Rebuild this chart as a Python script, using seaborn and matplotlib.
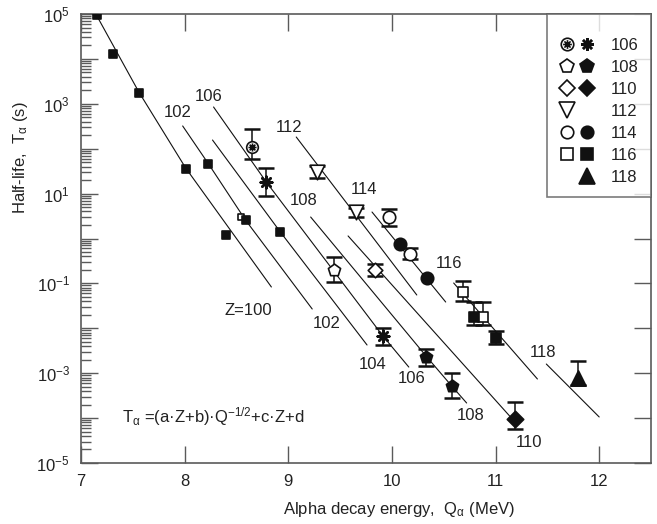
"""Alpha-decay half-lives of heavy nuclei vs Q_alpha, with the Z=100..118 systematics curves."""

import matplotlib
matplotlib.use("Agg")
import matplotlib.pyplot as plt
import numpy as np
import seaborn as sns
from matplotlib.legend_handler import HandlerTuple
from matplotlib.lines import Line2D
from matplotlib.path import Path
from matplotlib.ticker import FixedLocator, FuncFormatter, LogLocator, NullLocator

# --- data (Q in MeV, T in s) ---
known_q = [7.15, 7.31, 7.56, 8.01, 8.23, 8.40, 8.59, 8.92]
known_t = [9.5e4, 1.3e4, 1.75e3, 35.0, 46.0, 1.2, 2.6, 1.4]
known_open_q = [8.54]
known_open_t = [2.95]

z106_open_q, z106_open_t = [8.65], [110.0]
z106_open_lo, z106_open_hi = [58.0], [275.0]
z106_fill_q, z106_fill_t = [8.785, 9.915], [18.4, 6.8e-3]
z106_fill_lo, z106_fill_hi = [8.9, 4.3e-3], [38.0, 1.02e-2]

z108_open_q, z108_open_t = [9.44], [0.20]
z108_open_lo, z108_open_hi = [0.11], [0.38]
z108_fill_q, z108_fill_t = [10.33, 10.58], [2.24e-3, 5.2e-4]
z108_fill_lo, z108_fill_hi = [1.45e-3, 2.8e-4], [3.4e-3, 1.0e-3]

z110_open_q, z110_open_t = [9.84], [0.20]
z110_open_lo, z110_open_hi = [0.148], [0.266]
z110_fill_q, z110_fill_t = [11.19], [9.4e-5]
z110_fill_lo, z110_fill_hi = [5.75e-5], [2.34e-4]

z112_open_q, z112_open_t = [9.28, 9.65], [31.0, 3.8]
z112_open_lo, z112_open_hi = [22.0, 2.95], [41.0, 4.9]

z114_open_q, z114_open_t = [9.97, 10.17], [2.95, 0.45]
z114_open_lo, z114_open_hi = [1.9, 0.35], [4.6, 0.60]
z114_fill_q, z114_fill_t = [10.08, 10.34], [0.76, 0.13]

z116_open_q, z116_open_t = [10.69, 10.875], [0.065, 0.0176]
z116_open_lo, z116_open_hi = [0.041, 0.0117], [0.112, 0.0385]
z116_fill_q, z116_fill_t = [10.79, 11.0], [0.0176, 6.0e-3]
z116_fill_lo, z116_fill_hi = [0.0117, 4.5e-3], [0.0385, 8.7e-3]

z118_fill_q, z118_fill_t = [11.80], [7.8e-4]
z118_fill_lo, z118_fill_hi = [5.5e-4], [1.86e-3]

# systematics curves, traced points
curve_z = [100, 102, 104, 106, 108, 110, 112, 114, 116, 118]
curve_q = [
    [7.154, 7.558, 8.010, 8.837],
    [7.981, 8.231, 8.587, 9.231],
    [8.269, 8.923, 9.760],
    [8.279, 8.788, 9.913, 10.163],
    [9.216, 10.337, 10.577, 10.721],
    [9.577, 11.154],
    [9.077, 10.240],
    [9.808, 10.519],
    [10.596, 11.404],
    [11.490, 12.0],
]
curve_t = [
    [9.0e4, 1832, 37.2, 0.0832],
    [321, 45.6, 2.58, 0.0269],
    [156, 1.40, 4.25e-3],
    [849, 18.1, 6.75e-3, 1.37e-3],
    [3.01, 2.30e-3, 5.19e-4, 2.17e-4],
    [1.14, 1.00e-4],
    [182, 0.0552],
    [3.89, 0.0385],
    [0.102, 7.43e-4],
    [1.60e-3, 1.06e-4],
]
curve_label_text = ["Z=100", "102", "102", "104", "106", "106", "108",
                    "108", "110", "112", "114", "116", "118"]
curve_label_q = [8.61, 7.93, 9.37, 9.81, 8.23, 10.19, 9.15,
                 10.76, 11.32, 9.01, 9.73, 10.55, 11.46]
curve_label_t = [0.0243, 624, 0.0125, 1.6e-3, 1490, 7.8e-4, 7.2,
                 1.17e-4, 2.9e-5, 304, 12.6, 0.284, 2.96e-3]

legend_labels = ["106", "108", "110", "112", "114", "116", "118"]

INK = "#111111"
AXIS_GREY = "#5a5a5a"


def spoke_circle() -> Path:
    """Open circle with spokes, used for the open Z=106 symbol."""
    verts, codes = [], []
    for ang in np.deg2rad([0, 45, 90, 135]):
        dx, dy = 0.7 * np.cos(ang), 0.7 * np.sin(ang)
        verts += [(-dx, -dy), (dx, dy)]
        codes += [Path.MOVETO, Path.LINETO]
    return Path.make_compound_path(Path.unit_circle(), Path(verts, codes))


SPOKE = spoke_circle()
STAR = (8, 2, 0)


def draw_errors(ax, q, t, lo, hi):
    t = np.asarray(t)
    yerr = [t - np.asarray(lo), np.asarray(hi) - t]
    ax.errorbar(q, t, yerr=yerr, fmt="none", ecolor=INK, elinewidth=1.1,
                capsize=6, capthick=1.8, zorder=2)


def draw_points(ax, q, t, marker, filled, size):
    if marker == STAR:
        sns.scatterplot(x=q, y=t, ax=ax, marker=marker, s=size, color=INK,
                        linewidth=1.8, zorder=3)
        return
    sns.scatterplot(x=q, y=t, ax=ax, marker=marker, s=size,
                    color=INK if filled else "white", edgecolor=INK,
                    linewidth=1.2, zorder=3)


def main() -> None:
    sns.set_style("ticks")
    plt.rcParams["font.family"] = ["Liberation Sans", "DejaVu Sans"]
    plt.rcParams["mathtext.fontset"] = "custom"
    plt.rcParams["mathtext.rm"] = "Liberation Sans"
    plt.rcParams["mathtext.it"] = "Liberation Sans:italic"

    fig = plt.figure(figsize=(6.57, 5.24), dpi=100)
    ax = fig.add_axes([81 / 657, 61 / 524, 570 / 657, 449 / 524])
    ax.set_yscale("log")

    for q, t in zip(curve_q, curve_t):
        sns.lineplot(x=q, y=t, ax=ax, color=INK, linewidth=0.8, sort=False,
                     estimator=None, zorder=1)
    for txt, q, t in zip(curve_label_text, curve_label_q, curve_label_t):
        ax.text(q, t, txt, fontsize=12, color="#222222", ha="center", va="center")

    # error bars first
    draw_errors(ax, z106_open_q, z106_open_t, z106_open_lo, z106_open_hi)
    draw_errors(ax, z106_fill_q, z106_fill_t, z106_fill_lo, z106_fill_hi)
    draw_errors(ax, z108_open_q, z108_open_t, z108_open_lo, z108_open_hi)
    draw_errors(ax, z108_fill_q, z108_fill_t, z108_fill_lo, z108_fill_hi)
    draw_errors(ax, z110_open_q, z110_open_t, z110_open_lo, z110_open_hi)
    draw_errors(ax, z110_fill_q, z110_fill_t, z110_fill_lo, z110_fill_hi)
    draw_errors(ax, z112_open_q, z112_open_t, z112_open_lo, z112_open_hi)
    draw_errors(ax, z114_open_q, z114_open_t, z114_open_lo, z114_open_hi)
    draw_errors(ax, z116_open_q, z116_open_t, z116_open_lo, z116_open_hi)
    draw_errors(ax, z116_fill_q, z116_fill_t, z116_fill_lo, z116_fill_hi)
    draw_errors(ax, z118_fill_q, z118_fill_t, z118_fill_lo, z118_fill_hi)

    draw_points(ax, known_open_q, known_open_t, "s", False, 22)
    draw_points(ax, known_q, known_t, "s", True, 28)
    draw_points(ax, z106_open_q, z106_open_t, SPOKE, False, 70)
    draw_points(ax, z106_fill_q, z106_fill_t, STAR, True, 70)
    draw_points(ax, z108_open_q, z108_open_t, "p", False, 85)
    draw_points(ax, z108_fill_q, z108_fill_t, "p", True, 85)
    draw_points(ax, z110_open_q, z110_open_t, "D", False, 55)
    draw_points(ax, z110_fill_q, z110_fill_t, "D", True, 70)
    draw_points(ax, z112_open_q, z112_open_t, "v", False, 110)
    draw_points(ax, z114_open_q, z114_open_t, "o", False, 80)
    draw_points(ax, z114_fill_q, z114_fill_t, "o", True, 80)
    draw_points(ax, z116_open_q, z116_open_t, "s", False, 60)
    draw_points(ax, z116_fill_q, z116_fill_t, "s", True, 60)
    draw_points(ax, z118_fill_q, z118_fill_t, "^", True, 120)

    ax.text(7.40, 1.1e-4, r"T$_{\mathrm{\alpha}}$ =(a·Z+b)·Q$^{-1/2}$+c·Z+d",
            fontsize=12, color="#222222", ha="left", va="center")

    # axes
    ax.set_xlim(7, 12.5)
    ax.set_ylim(1e-5, 1e5)
    ax.xaxis.set_major_locator(FixedLocator([7, 8, 9, 10, 11, 12]))
    ax.xaxis.set_minor_locator(NullLocator())
    ax.yaxis.set_major_locator(LogLocator(base=10, numticks=20))
    ax.yaxis.set_minor_locator(LogLocator(base=10, subs=np.arange(2, 10), numticks=20))
    ax.yaxis.set_major_formatter(FuncFormatter(
        lambda v, _: rf"$10^{{{int(round(np.log10(v)))}}}$"
        if int(round(np.log10(v))) % 2 else ""))
    ax.tick_params(which="both", direction="in", top=True, right=True,
                   color=AXIS_GREY, width=1.0, labelsize=12, labelcolor="#222222")
    ax.tick_params(which="major", length=12, pad=8)
    ax.tick_params(which="minor", length=7, right=False)
    for sp in ax.spines.values():
        sp.set_color(AXIS_GREY)
        sp.set_linewidth(1.2)

    ax.set_xlabel(r"Alpha decay energy,  Q$_{\mathrm{\alpha}}$ (MeV)", fontsize=12,
                  color="#222222")
    ax.set_ylabel(r"Half-life,  T$_{\mathrm{\alpha}}$ (s)", fontsize=12, color="#222222")
    ax.xaxis.set_label_coords(0.558, -0.082)
    ax.yaxis.set_label_coords(-0.09, 0.68)

    # legend: open / filled symbol per element
    def mk(marker, filled, ms, mew=1.2):
        if marker is None:
            return Line2D([], [], ls="none", marker="None")
        return Line2D([], [], ls="none", marker=marker, markersize=ms,
                      markerfacecolor=INK if filled else "white",
                      markeredgecolor=INK, markeredgewidth=mew)

    handles = [
        (mk(SPOKE, False, 9), mk(STAR, True, 9, 1.8)),
        (mk("p", False, 10), mk("p", True, 10)),
        (mk("D", False, 8), mk("D", True, 8)),
        (mk("v", False, 11), mk(None, False, 0)),
        (mk("o", False, 9), mk("o", True, 9)),
        (mk("s", False, 8), mk("s", True, 8)),
        (mk(None, False, 0), mk("^", True, 11)),
    ]
    # blank tiny title only adds top padding inside the frame
    leg = ax.legend(handles, legend_labels, loc="upper right", bbox_to_anchor=(1, 1),
                    borderaxespad=0, fontsize=12, frameon=True, fancybox=False,
                    handlelength=2.1, handletextpad=1.0, labelspacing=0.42,
                    borderpad=0.75, title=" ", title_fontsize=3,
                    handler_map={tuple: HandlerTuple(ndivide=None, pad=0.3)})
    leg.get_frame().set_edgecolor(AXIS_GREY)
    leg.get_frame().set_linewidth(1.2)
    for t in leg.get_texts():
        t.set_color("#222222")

    fig.savefig("out.png", dpi=100)
    plt.close(fig)


if __name__ == "__main__":
    main()
